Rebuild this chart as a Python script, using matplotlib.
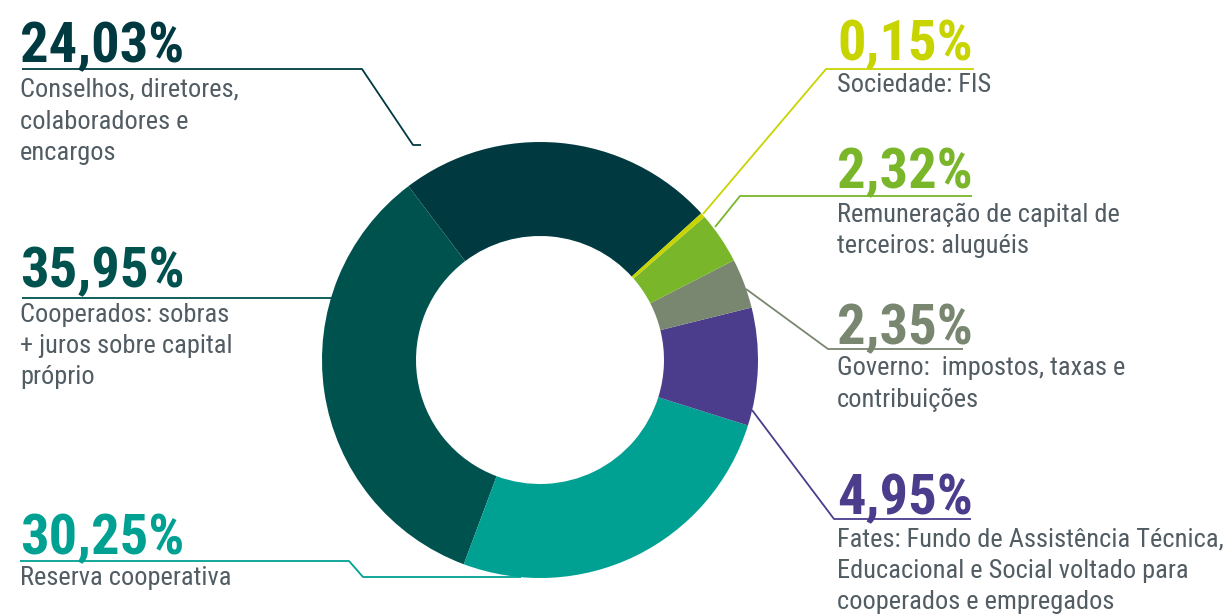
import matplotlib
matplotlib.use("Agg")
import matplotlib.pyplot as plt
from matplotlib import font_manager as fm

# ---------------- data ----------------
categories = [
    "Conselhos, diretores,\ncolaboradores e\nencargos",
    "Cooperados: sobras\n+ juros sobre capital\npróprio",
    "Reserva cooperativa",
    "Fates: Fundo de Assistência Técnica,\nEducacional e Social voltado para\ncooperados e empregados",
    "Governo:  impostos, taxas e\ncontribuições",
    "Remuneração de capital de\nterceiros: aluguéis",
    "Sociedade: FIS",
]
values = [24.03, 35.95, 30.25, 4.95, 2.35, 2.32, 0.15]          # printed percentages
drawn_share = [23.56, 34.00, 25.83, 8.72, 3.69, 3.83, 0.36]     # slice sizes as drawn
colors = ["#003a40", "#00524f", "#00a192", "#4b3c8c", "#798670", "#7ab62a", "#c8d400"]

pct_labels = [f"{v:.2f}".replace(".", ",") + "%" for v in values]

# ---------------- layout (pixels) ----------------
W, H = 1230, 614
fig = plt.figure(figsize=(W / 100, H / 100), dpi=100)
ax = fig.add_axes([0, 0, 1, 1])

names = {f.name for f in fm.fontManager.ttflist}
family = "DejaVu Sans"
for cand in ["Liberation Sans Narrow", "Roboto Condensed", "Roboto", "Liberation Sans"]:
    if cand in names:
        family = cand
        break

def fit_size(samples, weight):
    sizes = []
    for s, target_w in samples:
        t = ax.text(0, 0, s, fontsize=20, family=family, weight=weight)
        w = t.get_window_extent(fig.canvas.get_renderer()).width
        t.remove()
        sizes.append(20 * target_w / w)
    return min(sizes)

num_size = fit_size([("24,03%", 165), ("4,95%", 136)], "bold")
body_size = fit_size([("Conselhos, diretores,", 228),
                      ("Fates: Fundo de Assistência Técnica,", 386)], "normal")

cx, cy, R, r_in = 540, 360, 218, 124
ax.pie(drawn_share, colors=colors, startangle=-42.3, counterclock=False,
       radius=R, center=(cx, cy),
       wedgeprops=dict(width=R - r_in, linewidth=0, zorder=2))

# label anchors: (x of text, number baseline, body baselines, leader polyline)
layout = [
    (20, 62, [97, 129, 160], [(22, 69), (362, 69), (413, 145), (421, 145)]),
    (20, 287, [322, 353, 384], [(22, 298), (332, 298)]),
    (20, 554, [585], [(20, 561), (349, 561), (363, 577), (521, 577)]),
    (837, 514, [547, 578, 609], [(971, 519), (834, 519), (752, 410)]),
    (837, 344, [375, 407], [(963, 349), (828, 349), (746, 289)]),
    (837, 188, [222, 253], [(972, 196), (740, 196), (715, 227)]),
    (837, 60, [92], [(974, 69), (826, 69), (703, 214)]),
]

body_color = "#515c63"
for lab, cat, col, (x, yb, ylines, poly) in zip(pct_labels, categories, colors, layout):
    xs, ys = zip(*poly)
    ax.plot(xs, ys, color=col, lw=1.3, zorder=1, solid_capstyle="butt")
    ax.text(x, yb, lab, fontsize=num_size, family=family, weight="bold",
            color=col, ha="left", va="baseline", zorder=3)
    for line, yl in zip(cat.split("\n"), ylines):
        ax.text(x, yl, line, fontsize=body_size, family=family,
                color=body_color, ha="left", va="baseline", zorder=3)

ax.set_xlim(0, W)
ax.set_ylim(H, 0)
ax.set_aspect("auto")
ax.axis("off")
fig.savefig("out.png", dpi=100, facecolor="white")
